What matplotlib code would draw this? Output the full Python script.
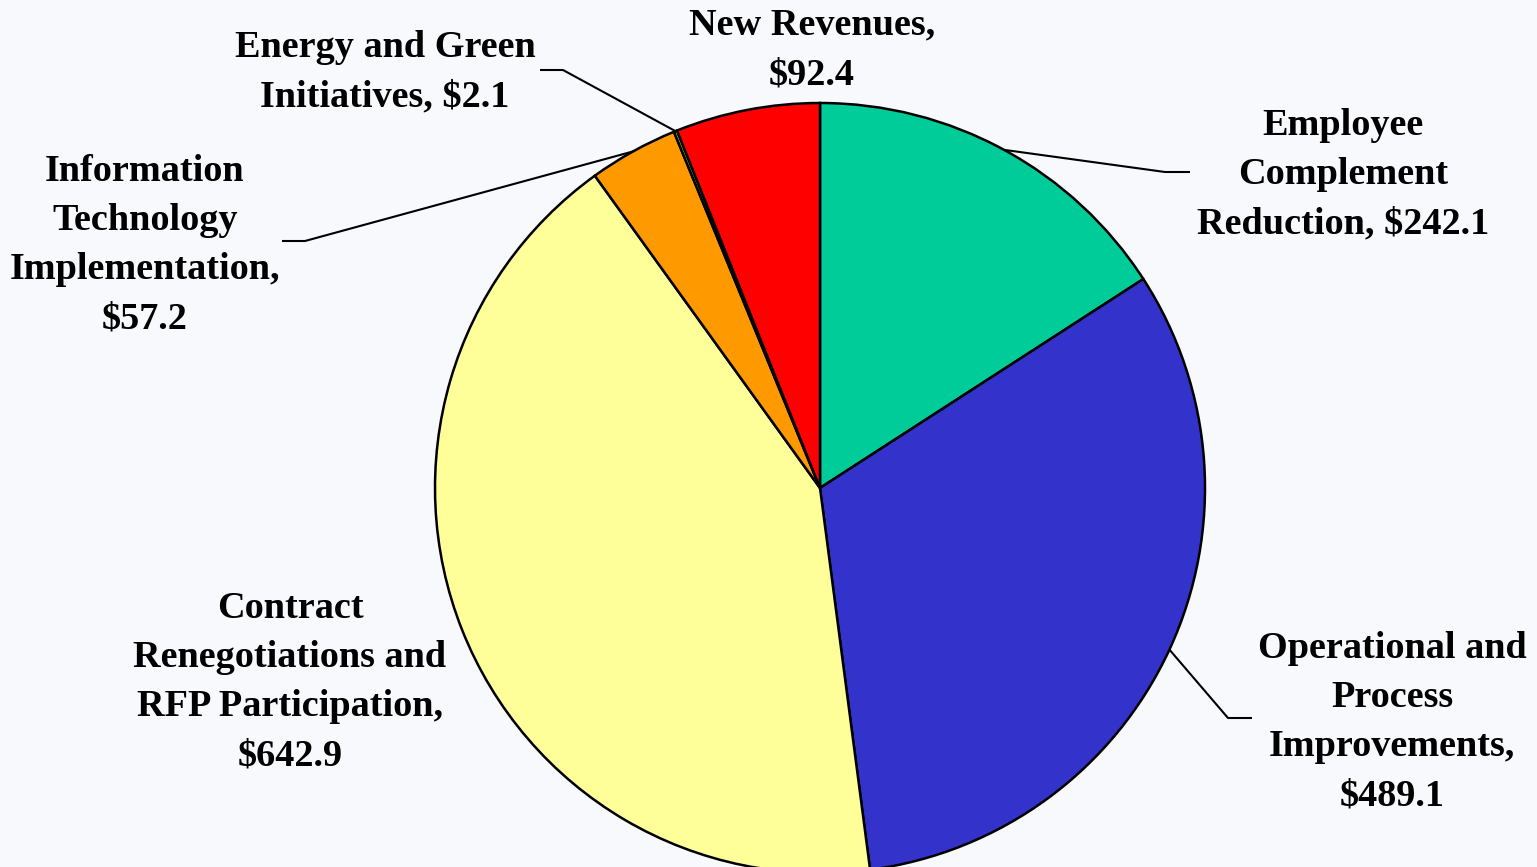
import numpy as np
import matplotlib.pyplot as plt

# --- Данные ---
categories = [
    "Employee\nComplement\nReduction, $242.1",
    "Operational and\nProcess\nImprovements,\n$489.1",
    "Contract\nRenegotiations and\nRFP Participation,\n$642.9",
    "Information\nTechnology\nImplementation,\n$57.2",
    "Energy and Green\nInitiatives, $2.1",
    "New Revenues,\n$92.4",
]
values = [242.1, 489.1, 642.9, 57.2, 2.1, 92.4]
colors = ["#00CC99", "#3333CC", "#FFFF99", "#FF9900", "#99CC00", "#FF0000"]

W, H = 1537, 867
BG = "#F8F9FC"

# положение подписей (x, y сверху) и изгиб выноски; None - без выноски
label_pos = [(1343, 175), (1392, 722), (290, 682), (145, 245), (385, 72), (812, 50)]
elbows = [((1165, 172), (1190, 172)),
          ((1228, 718), (1252, 718)),
          None,
          ((305, 241), (282, 241)),
          ((563, 70), (540, 70)),
          None]

fig = plt.figure(figsize=(W / 100, H / 100), dpi=100, facecolor=BG)
ax = fig.add_axes([0, 0, 1, 1])
ax.set_facecolor(BG)

cx, cy, r = 820, H - 488, 385
wedges, _ = ax.pie(values, colors=colors, startangle=90, counterclock=False,
                   center=(cx, cy), radius=r, frame=True,
                   wedgeprops=dict(edgecolor="black", linewidth=1.8))
ax.set_xlim(0, W)
ax.set_ylim(0, H)
ax.axis("off")

for wedge, text, pos, elbow in zip(wedges, categories, label_pos, elbows):
    if elbow is not None:
        mid = np.deg2rad((wedge.theta1 + wedge.theta2) / 2)
        sx, sy = cx + r * np.cos(mid), cy + r * np.sin(mid)
        (ex1, ey1), (ex2, ey2) = elbow
        ax.plot([sx, ex1, ex2], [sy, H - ey1, H - ey2], color="black", lw=1.5,
                solid_capstyle="butt", zorder=3)
    ax.text(pos[0], H - pos[1], text, ha="center", va="center", multialignment="center",
            fontsize=27.5, fontweight="bold", family="Liberation Serif", linespacing=1.53)

fig.savefig("out.png", dpi=100, facecolor=BG)
